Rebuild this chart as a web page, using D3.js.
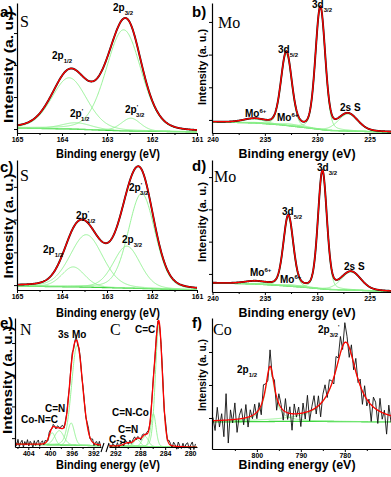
<!DOCTYPE html>
<html>
<head>
<meta charset="utf-8">
<script src="https://cdn.jsdelivr.net/npm/d3@7"></script>
<style>
  body { margin: 0; background: #fff; }
  svg text { font-family: "Liberation Sans", Arial, sans-serif; font-weight: bold; fill: #000; }
  svg text.serif { font-family: "Liberation Serif", "Times New Roman", serif; font-weight: normal; }
  .tick text { font-size: 7px; }
  .domain { stroke-width: 1.2px; }
</style>
</head>
<body>
<script>
// ---- data (BE in eV, intensity in a.u.; 1 a.u. = one y tick step) ----
const yTicks4 = [0, 1, 2, 3];
const yTicks3 = [0, 1, 2];

// a) S 2p, sample 1
const aX = [165, 161], aY = [-0.125, 3.94];
const aTicks = [165, 164, 163, 162, 161], aMinor = [164.5, 163.5, 162.5, 161.5];
const aBgBE = [165, 163.8, 162.6, 161], aBgI = [0.03, 0.0, -0.06, -0.09];
const aCenters = [163.84, 163.68, 162.63, 162.47];
const aHeights = [1.6, 0.2, 3.16, 0.4];
const aWidths = [0.92, 0.8, 0.92, 0.5];

// b) Mo 3d, sample 1
const bX = [240.05, 222.95], bY = [-0.4, 3.58];
const bTicks = [240, 235, 230, 225], bMinor = [237.5, 232.5, 227.5];
const bBgBE = [240, 236, 233.5, 231, 229, 226, 223];
const bBgI = [-0.06, -0.09, -0.15, -0.24, -0.32, -0.35, -0.37];
const bCenters = [236.0, 232.95, 232.6, 229.7, 227.05];
const bHeights = [0.12, 2.19, 0.06, 3.73, 0.52];
const bWidths = [2.5, 1.2, 2.0, 1.1, 2.2];

// c) S 2p, sample 2
const cX = [165, 161], cY = [-0.15, 3.82];
const cBgBE = [165, 163.5, 162.3, 161], cBgI = [-0.03, -0.06, -0.1, -0.15];
const cCenters = [163.75, 163.46, 162.56, 162.23];
const cHeights = [0.61, 1.6, 1.28, 2.9];
const cWidths = [0.6, 0.85, 0.7, 0.7];

// d) Mo 3d, sample 2
const dX = [240.05, 222.95], dY = [-0.56, 3.53];
const dBgBE = [240, 236, 233.5, 231, 229, 226, 223];
const dBgI = [-0.28, -0.31, -0.36, -0.42, -0.48, -0.51, -0.54];
const dCenters = [235.9, 232.76, 232.5, 229.5, 226.76];
const dHeights = [0.08, 2.14, 0.05, 3.64, 0.56];
const dWidths = [2.5, 1.1, 2.0, 1.0, 2.2];

// e) N 1s / C 1s (broken axis)
const eY = [-0.28, 3.79];
const eNX = [406.45, 390.6], eNTicks = [404, 400, 396, 392], eNMinor = [406, 402, 398, 394];
const eNBgBE = [406.5, 390.5], eNBgI = [-0.19, -0.24];
const eNCenters = [399.6, 398.3, 396.1, 395.0];
const eNHeights = [0.38, 0.45, 0.7, 3.15];
const eNWidths = [1.3, 2.0, 1.4, 2.4];
const eNRes = [0.10,-0.05,0.15,-0.08,0.05,0.12,-0.10,0.08,-0.03,0.14,
  -0.06,0.09,0.02,-0.10,0.11,-0.04,0.07,0.13,-0.07,0.05,
  0.10,-0.04,0.08,0.03,-0.06,0.09,0.05,-0.03,0.07,0.02,
  -0.05,0.06,0.04,-0.02,0.08,0.10,-0.04,0.06,0.03,0.09,
  -0.05,0.08,0.12,-0.06,0.04,0.10,-0.08,0.06,0.09,-0.04,
  0.07,0.03,-0.06,0.08,0.12,-0.05,0.04,0.10,-0.07,0.05,
  0.09,-0.04,0.11,-0.06];
const eCX = [293.0, 278.9], eCTicks = [292, 288, 284, 280], eCMinor = [290, 286, 282];
const eCBgBE = [293, 279], eCBgI = [-0.25, -0.29];
const eCCenters = [290.0, 288.5, 287.2, 285.9, 285.0];
const eCHeights = [0.1, 0.22, 0.32, 1.04, 3.85];
const eCWidths = [1.5, 1.2, 1.2, 1.0, 1.3];
const eCRes = [0.05,-0.06,0.08,0.02,-0.04,0.10,-0.05,0.07,0.03,-0.06,
  0.09,0.04,-0.05,0.08,-0.03,0.06,0.10,-0.04,0.05,0.02,
  -0.06,0.07,0.04,-0.03,0.06,0.02,-0.05,0.04,0.08,-0.06,
  0.05,0.03,-0.04,0.07,0.12,-0.08,0.15,-0.06,0.10,0.05,
  -0.07,0.12,0.04,-0.09,0.14,0.02,-0.06,0.11,-0.04,0.09,
  0.13,-0.05,0.07,0.16,-0.08,0.10];

// f) Co 2p
const fX = [810.2, 769.5], fY = [-0.94, 3.03];
const fTicks = [800, 790, 780], fMinor = [805, 795, 785, 775];
const fBgBE = [810, 790, 769.5], fBgI = [-0.12, -0.1, -0.12];
const fCenters = [797.0, 779.8];
const fHeights = [1.6, 2.4];
const fWidths = [2.5, 6.0];
const fRes = [0.1,-0.3,0.4,-0.2,0.2,-0.5,0.8,-0.7,0.3,-0.1,
  0.5,-0.4,0.1,0.3,-0.2,0.4,-0.3,0.2,-0.1,0.3,
  -0.2,0.2,-0.3,0.4,0.1,-0.2,0.5,-0.1,0.2,-0.4,
  0.3,0.1,-0.3,0.4,-0.2,0.2,-0.5,0.3,-0.1,0.2,
  -0.4,0.3,-0.2,0.5,-0.3,0.1,0.4,-0.2,0.3,-0.4,
  0.2,0.4,-0.1,0.3,0.1,-0.2,0.4,0.1,0.5,-0.1,
  0.6,0.2,-0.3,0.3,-0.2,0.4,-0.1,0.2,-0.4,0.3,
  -0.2,0.1,-0.5,0.3,0.2,-0.4,0.4,-0.2,0.1,-0.6,
  0.3,-0.2];

// ---- drawing ----
const LG = "#8cf08c", BGC = "#3fd43f";
const svg = d3.select("body").append("svg").attr("width", 391).attr("height", 477);

// pseudo-Voigt peak (w = FWHM)
function pv(v, c, h, w, eta) {
  const d = (v - c) / (w / 2);
  return h * ((1 - eta) * Math.exp(-Math.LN2 * d * d) + eta / (1 + d * d));
}

function seg(xDomain, xRange, ticks, minor, bgBE, bgI, centers, heights, widths, eta, res, resStart, resStep) {
  return { xDomain, xRange, ticks, minor, bgBE, bgI, centers, heights, widths, eta, res, resStart, resStep };
}

const panels = [
  { left: 17, top: 3, bottom: 133, yDomain: aY, yTicks: yTicks4,
    segs: [seg(aX, [17, 197], aTicks, aMinor, aBgBE, aBgI, aCenters, aHeights, aWidths, 0.2)] },
  { left: 212, top: 3, bottom: 133, yDomain: bY, yTicks: yTicks4,
    segs: [seg(bX, [212, 391], bTicks, bMinor, bBgBE, bBgI, bCenters, bHeights, bWidths, 0.2)] },
  { left: 17, top: 160, bottom: 290, yDomain: cY, yTicks: yTicks4,
    segs: [seg(cX, [17, 197], aTicks, aMinor, cBgBE, cBgI, cCenters, cHeights, cWidths, 0.2)] },
  { left: 212, top: 160, bottom: 292, yDomain: dY, yTicks: yTicks4,
    segs: [seg(dX, [212, 391], bTicks, bMinor, dBgBE, dBgI, dCenters, dHeights, dWidths, 0.2)] },
  { left: 15, top: 318, bottom: 447, yDomain: eY, yTicks: yTicks4,
    segs: [seg(eNX, [15, 101], eNTicks, eNMinor, eNBgBE, eNBgI, eNCenters, eNHeights, eNWidths, 0.1, eNRes, 406.4, 0.25),
           seg(eCX, [109, 197], eCTicks, eCMinor, eCBgBE, eCBgI, eCCenters, eCHeights, eCWidths, 0.1, eCRes, 292.9, 0.25)] },
  { left: 212, top: 318, bottom: 449, yDomain: fY, yTicks: yTicks3,
    segs: [seg(fX, [212, 391], fTicks, fMinor, fBgBE, fBgI, fCenters, fHeights, fWidths, 1.0, fRes, 810, 0.5)] }
];

panels.forEach(p => {
  const g = svg.append("g");
  const y = d3.scaleLinear().domain(p.yDomain).range([p.bottom, p.top]);

  p.segs.forEach(s => {
    const x = d3.scaleLinear().domain(s.xDomain).range(s.xRange);
    const bg = d3.scaleLinear().domain(s.bgBE).range(s.bgI).clamp(true);
    const grid = d3.range(401).map(i => s.xDomain[0] + (s.xDomain[1] - s.xDomain[0]) * i / 400);
    const env = v => bg(v) + d3.sum(s.centers, (c, i) => pv(v, c, s.heights[i], s.widths[i], s.eta));
    const line = d3.line().x(d => x(d[0])).y(d => y(d[1]));

    // background and fitted components
    g.append("path").datum(grid.map(v => [v, bg(v)]))
      .attr("d", line).attr("fill", "none").attr("stroke", BGC).attr("stroke-width", 1.3);
    s.centers.forEach((c, i) => {
      g.append("path").datum(grid.map(v => [v, bg(v) + pv(v, c, s.heights[i], s.widths[i], s.eta)]))
        .attr("d", line).attr("fill", "none").attr("stroke", LG).attr("stroke-width", 0.9);
    });

    // measured data
    const meas = s.res
      ? s.res.map((r, i) => { const v = s.resStart - i * s.resStep; return [v, env(v) + r]; })
      : grid.map(v => [v, env(v)]);
    g.append("path").datum(meas)
      .attr("d", line).attr("fill", "none").attr("stroke", "#111")
      .attr("stroke-width", s.res ? 0.9 : 1.9);

    // envelope
    g.append("path").datum(grid.map(v => [v, env(v)]))
      .attr("d", line).attr("fill", "none").attr("stroke", "#ff0000").attr("stroke-width", 1.3);

    // x axis with minor ticks
    g.append("g").attr("transform", `translate(0,${p.bottom})`)
      .call(d3.axisBottom(x).tickValues(s.ticks).tickSize(3).tickSizeOuter(0).tickPadding(1).tickFormat(d3.format("d")));
    g.append("g").attr("transform", `translate(0,${p.bottom})`)
      .call(d3.axisBottom(x).tickValues(s.minor).tickSize(2).tickFormat(""))
      .call(a => a.select(".domain").remove());
  });

  g.append("g").attr("transform", `translate(${p.left},0)`)
    .call(d3.axisLeft(y).tickValues(p.yTicks).tickSize(3).tickSizeOuter(0).tickFormat(""));
});

// axis break in e)
svg.append("path").attr("d", "M101,452L104,443M106,452L109,443")
  .attr("stroke", "#000").attr("stroke-width", 1.1).attr("fill", "none");

// axis titles
[[108, 158, 104], [297, 158, 117], [108, 317, 104], [297, 317, 117], [108, 469, 104], [297, 469, 117]]
  .forEach(([cx, by, len]) => {
    svg.append("text").attr("x", cx).attr("y", by).attr("text-anchor", "middle")
      .attr("textLength", len).attr("lengthAdjust", "spacingAndGlyphs")
      .style("font-size", "12px").text("Binding energy (eV)");
  });
[[13, 67, 112, 13], [206, 67, 76, 11], [13, 226, 105, 13], [206, 222, 80, 11], [12, 380, 108, 13], [206, 375, 72, 11]]
  .forEach(([bx, cy, len, fs]) => {
    svg.append("text").attr("transform", `translate(${bx},${cy}) rotate(-90)`)
      .attr("text-anchor", "middle").attr("textLength", len).attr("lengthAdjust", "spacingAndGlyphs")
      .style("font-size", fs + "px").text("Intensity (a. u.)");
  });

// panel letters and element symbols
[["a)", 0, 17], ["b)", 192, 17], ["c)", 0, 172], ["d)", 192, 171], ["e)", 0, 328], ["f)", 192, 328]]
  .forEach(([t, x, y]) => svg.append("text").attr("x", x).attr("y", y).style("font-size", "15px").text(t));
[["S", 20, 27], ["Mo", 218, 28], ["S", 20, 181], ["Mo", 214, 182], ["N", 20, 335], ["C", 110, 335], ["Co", 213, 335]]
  .forEach(([t, x, y]) => svg.append("text").attr("class", "serif").attr("x", x).attr("y", y).style("font-size", "16px").text(t));

// peak labels with sub/superscripts
function rich(x, y, parts, size) {
  const t = svg.append("text").attr("x", x).attr("y", y).style("font-size", size + "px");
  let cur = 0;
  parts.forEach(([s, k, dx]) => {
    const off = k === "sub" ? size * 0.35 : k === "sup" ? -size * 0.4 : 0;
    const ts = t.append("tspan").attr("dy", off - cur).text(s);
    if (dx) ts.attr("dx", dx);
    if (k) ts.style("font-size", size * 0.6 + "px");
    cur = off;
  });
}
const p12 = [["2p"], ["1/2", "sub"]], p32 = [["2p"], ["3/2", "sub"]];
const p12p = [["2p"], ["'", "sup"], ["1/2", "sub", -2]], p32p = [["2p"], ["'", "sup"], ["3/2", "sub", -2]];
const d32 = [["3d"], ["3/2", "sub"]], d52 = [["3d"], ["5/2", "sub"]], mo6 = [["Mo"], ["6+", "sup"]];

rich(52, 59, p12, 10); rich(113, 11, p32, 10); rich(70, 117, p12p, 10); rich(125, 113, p32p, 10);
rich(312, 8, d32, 10); rich(278, 53, d52, 10); rich(245, 117, mo6, 10); rich(277, 121, mo6, 10);
rich(340, 111, [["2s S"]], 10);
rich(43, 253, p12, 10); rich(76, 219, p12p, 10); rich(122, 243, p32, 10); rich(129, 191, p32p, 10);
rich(317, 171, d32, 10); rich(282, 215, d52, 10); rich(250, 276, mo6, 10); rich(280, 283, mo6, 10);
rich(344, 270, [["2s S"]], 10);
rich(58, 338, [["3s Mo"]], 10); rich(135, 333, [["C=C"]], 10); rich(45, 412, [["C=N"]], 10);
rich(21, 423, [["Co-N=C"]], 10); rich(112, 416, [["C=N-Co"]], 10); rich(118, 433, [["C=N"]], 10);
rich(109, 443, [["C-S"]], 10);
rich(237, 373, p12, 10); rich(318, 333, [["2p"], ["3/2", "sub"], ["'", "sup"]], 10);
</script>
</body>
</html>
